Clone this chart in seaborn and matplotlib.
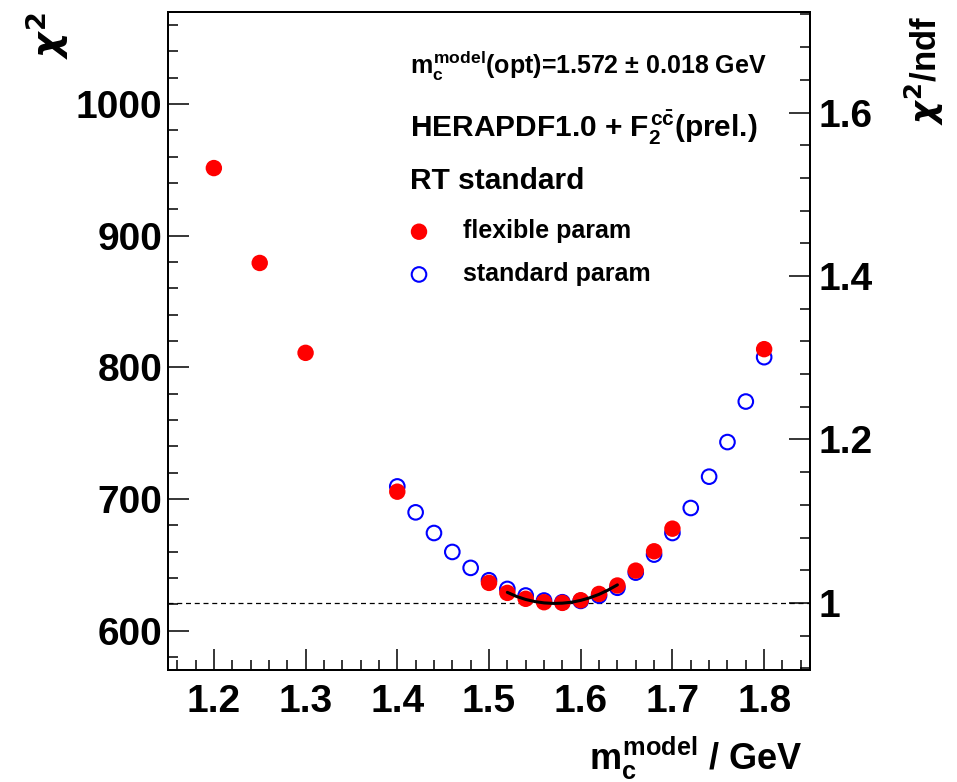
import matplotlib
matplotlib.use("Agg")
import matplotlib.pyplot as plt
import seaborn as sns
import pandas as pd
from matplotlib.ticker import MultipleLocator, FormatStrFormatter

# flexible param (red, filled)
flex_mc = [1.20, 1.25, 1.30, 1.40, 1.50, 1.52, 1.54, 1.56, 1.58, 1.60, 1.62, 1.64, 1.66, 1.68, 1.70, 1.80]
flex_chi2 = [951.4, 879.3, 811.0, 705.5, 636.2, 628.6, 624.1, 621.5, 621.0, 623.0, 627.8, 634.2, 645.5, 660.2, 677.4, 813.8]

# standard param (blue, open)
std_mc = [1.40, 1.42, 1.44, 1.46, 1.48, 1.50, 1.52, 1.54, 1.56, 1.58, 1.60, 1.62,
          1.64, 1.66, 1.68, 1.70, 1.72, 1.74, 1.76, 1.78, 1.80]
std_chi2 = [709.5, 689.8, 674.1, 659.7, 647.6, 638.2, 631.6, 626.6, 622.8, 621.5, 622.5, 626.5,
            632.5, 644.0, 657.7, 674.1, 693.1, 716.9, 743.2, 774.0, 807.7]

# parabola fit around the minimum
fit_mc = [1.52, 1.53, 1.54, 1.55, 1.56, 1.57, 1.58, 1.59, 1.60, 1.61, 1.62, 1.63, 1.64]
fit_chi2 = [629.0, 625.9, 623.6, 622.0, 621.0, 620.6, 620.8, 621.5, 622.9, 624.9, 627.5, 630.8, 634.7]

ndf = 621
ylim = (570, 1070)

flex = pd.DataFrame({"mc": flex_mc, "chi2": flex_chi2})
std = pd.DataFrame({"mc": std_mc, "chi2": std_chi2})
fit = pd.DataFrame({"mc": fit_mc, "chi2": fit_chi2})

sns.set_style("ticks")
plt.rcParams["font.family"] = ["Liberation Sans", "DejaVu Sans"]
plt.rcParams["font.weight"] = "bold"
plt.rcParams["text.color"] = "black"
plt.rcParams["xtick.color"] = "black"
plt.rcParams["ytick.color"] = "black"
plt.rcParams["axes.edgecolor"] = "black"
plt.rcParams["mathtext.fontset"] = "custom"
plt.rcParams["mathtext.rm"] = "Liberation Sans:bold"
plt.rcParams["mathtext.it"] = "Liberation Sans:bold"
plt.rcParams["mathtext.bf"] = "Liberation Sans:bold"

fig = plt.figure(figsize=(9.57, 7.82), dpi=100)
ax = fig.add_axes([168 / 957, 112 / 782, 642 / 957, 658 / 782])

ax.axhline(ndf, color="black", lw=0.9, ls=(0, (4, 3)), zorder=1)
sns.scatterplot(data=std, x="mc", y="chi2", ax=ax, s=110, marker="o",
                facecolors="none", edgecolor="#0000ff", linewidth=1.5,
                label="standard param", zorder=2)
sns.scatterplot(data=flex, x="mc", y="chi2", ax=ax, s=140, marker="o",
                color="#ff0000", edgecolor="none", label="flexible param", zorder=3)
sns.lineplot(data=fit, x="mc", y="chi2", ax=ax, color="black", lw=2.2, zorder=5)

ax.set_xlim(1.15, 1.85)
ax.set_ylim(*ylim)
ax.set_xlabel("")
ax.set_ylabel("")
ax.xaxis.set_major_locator(MultipleLocator(0.1))
ax.xaxis.set_minor_locator(MultipleLocator(0.02))
ax.yaxis.set_major_locator(MultipleLocator(100))
ax.yaxis.set_minor_locator(MultipleLocator(20))
ax.xaxis.set_major_formatter(FormatStrFormatter("%.1f"))
ax.tick_params(axis="both", which="major", direction="in", length=15, width=1.1,
               labelsize=28)
ax.tick_params(axis="both", which="minor", direction="in", length=7.5, width=1.1)
ax.tick_params(axis="x", which="both", top=False, pad=10)
ax.tick_params(axis="y", which="both", right=False, pad=4)
for sp in ax.spines.values():
    sp.set_linewidth(1.4)

ax2 = ax.twinx()
ax2.set_ylim(ylim[0] / ndf, ylim[1] / ndf)
ax2.yaxis.set_major_locator(MultipleLocator(0.2))
ax2.yaxis.set_minor_locator(MultipleLocator(0.04))
ax2.yaxis.set_major_formatter(FormatStrFormatter("%g"))
ax2.tick_params(axis="y", which="major", direction="in", length=15, width=1.1,
                labelsize=28, pad=6)
ax2.tick_params(axis="y", which="minor", direction="in", length=7.5, width=1.1)
for sp in ax2.spines.values():
    sp.set_linewidth(1.4)

ax.legend(loc="upper left", bbox_to_anchor=(0.3715, 0.685), frameon=False,
          fontsize=18, handlelength=1.0, handletextpad=1.25, borderpad=0,
          borderaxespad=0, labelspacing=0.75, reverse=True)

ax.text(0.377, 0.906, r"$m_c^{model}$(opt)=1.572 $\pm$ 0.018 GeV", transform=ax.transAxes,
        fontsize=18, fontweight="bold", va="baseline", ha="left")
ax.text(0.377, 0.810, r"HERAPDF1.0 + $F_2^{c\bar{c}}$(prel.)", transform=ax.transAxes,
        fontsize=21.5, fontweight="bold", va="baseline", ha="left")
ax.text(0.377, 0.731, "RT standard", transform=ax.transAxes,
        fontsize=21.5, fontweight="bold", va="baseline", ha="left")

fig.text(802 / 957, 1 - 758 / 782, r"$m_c^{model}$ / GeV", fontsize=26,
         fontweight="bold", ha="right", va="center")
fig.text(47 / 957, 1 - 12 / 782, r"$\chi^2$", fontsize=28, rotation=90,
         ha="center", va="top", math_fontfamily="dejavusans")
fig.text(924 / 957, 1 - 16 / 782, r"$\chi^2$/ndf", fontsize=25, fontweight="bold",
         rotation=90, ha="center", va="top", math_fontfamily="dejavusans")

fig.savefig("out.png", dpi=100)
